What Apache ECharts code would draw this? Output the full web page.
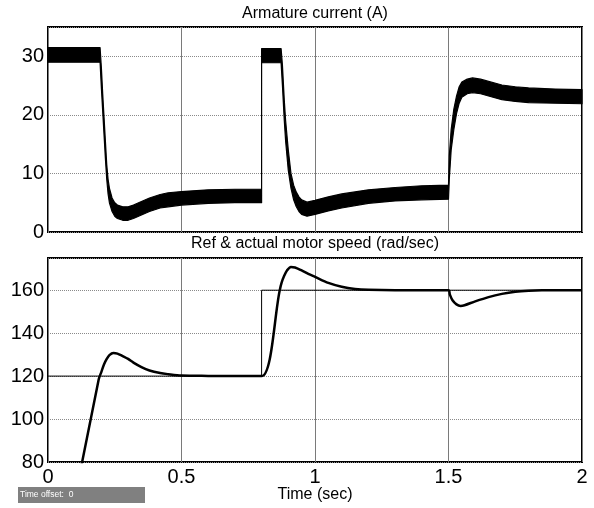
<!DOCTYPE html>
<html>
<head>
<meta charset="utf-8">
<script src="https://cdn.jsdelivr.net/npm/echarts@6/dist/echarts.min.js"></script>
<style>
html,body{margin:0;padding:0;background:#fff;}
#chart{width:594px;height:508px;}
</style>
</head>
<body>
<div id="chart"></div>
<script>
// ---- Armature current (A): ripple band, upper & lower envelopes ----
var currentTime  = [0, 0.195, 0.2, 0.205, 0.21, 0.215, 0.22, 0.225, 0.23, 0.24, 0.25, 0.26, 0.28, 0.3, 0.32, 0.35, 0.38, 0.42, 0.45, 0.5, 0.6, 0.7, 0.8,
                    0.8, 0.873, 0.878, 0.885, 0.89, 0.9, 0.91, 0.92, 0.93, 0.94, 0.95, 0.97, 1.0, 1.05, 1.1, 1.2, 1.3, 1.4, 1.5,
                    1.503, 1.51, 1.52, 1.53, 1.54, 1.55, 1.57, 1.59, 1.62, 1.7, 1.75, 1.8, 1.9, 2.0];
var currentUpper = [31.5, 31.5, 28.0, 23.5, 19.5, 15.5, 11.5, 9.0, 7.5, 5.8, 5.0, 4.6, 4.3, 4.3, 4.6, 5.2, 5.8, 6.4, 6.7, 6.9, 7.2, 7.3, 7.3,
                    31.3, 31.3, 28.5, 22.5, 19.0, 14.0, 10.0, 8.0, 6.8, 6.0, 5.5, 5.1, 5.4, 6.0, 6.5, 7.2, 7.6, 7.9, 8.0,
                    13.0, 17.5, 21.0, 23.2, 24.8, 25.6, 26.1, 26.3, 26.1, 25.1, 24.8, 24.6, 24.4, 24.3];
var currentLower = [29.0, 29.0, 24.5, 20.5, 16.5, 12.5, 9.0, 6.5, 5.0, 3.5, 2.7, 2.3, 2.0, 2.0, 2.3, 2.9, 3.5, 4.1, 4.3, 4.6, 4.9, 5.0, 5.0,
                    28.9, 28.9, 25.0, 19.0, 15.5, 10.5, 7.5, 5.5, 4.3, 3.5, 3.0, 2.7, 3.0, 3.6, 4.1, 4.9, 5.3, 5.5, 5.6,
                    9.0, 14.0, 17.5, 20.2, 22.0, 23.0, 23.6, 23.8, 23.6, 22.6, 22.3, 22.1, 22.0, 21.9];

// ---- Ref & actual motor speed (rad/sec) ----
var speedTime   = [0, 0.19, 0.2, 0.21, 0.22, 0.23, 0.245, 0.26, 0.28, 0.3, 0.32, 0.35, 0.38, 0.42, 0.45, 0.5, 0.6, 0.7, 0.8,
                   0.868, 0.875, 0.885, 0.895, 0.91, 0.925, 0.95, 0.975, 1.0, 1.05, 1.1, 1.15, 1.2, 1.3, 1.5,
                   1.505, 1.515, 1.53, 1.545, 1.56, 1.6, 1.65, 1.7, 1.75, 1.8, 1.85, 2.0];
var speedActual = [0, 118.5, 122, 125.5, 128, 129.8, 130.8, 130.5, 129.3, 128.0, 126.3, 124.2, 122.6, 121.4, 120.9, 120.3, 120.1, 120, 120,
                   160, 163.5, 166.8, 169.2, 170.8, 170.6, 169.2, 167.6, 166.2, 163.4, 161.6, 160.6, 160.2, 160, 160,
                   158, 155.3, 153.4, 152.7, 153.0, 154.8, 156.8, 158.3, 159.3, 159.8, 160, 160];
var refTime  = [0, 0.8, 0.8, 2];
var refSpeed = [120, 120, 160, 160];

var xTickValues = [0, 0.5, 1, 1.5, 2];

function pairs(xs, ys) { return xs.map(function (x, i) { return [x, ys[i]]; }); }

var FONT = '"Liberation Sans", Arial, sans-serif';
var chart = echarts.init(document.getElementById('chart'), null, {renderer: 'canvas'});

var hGrid = {show: true, lineStyle: {color: '#8a8a8a', width: 1, type: [1, 1]}};
var vGrid = {show: true, lineStyle: {color: '#7a7a7a', width: 1, type: 'solid'}};

function renderBand(params, api) {
  if (params.dataIndex !== 0) return null;
  var pts = [];
  for (var i = 0; i < currentTime.length; i++) pts.push(api.coord([currentTime[i], currentUpper[i]]));
  for (var j = currentTime.length - 1; j >= 0; j--) pts.push(api.coord([currentTime[j], currentLower[j]]));
  return {type: 'polygon', shape: {points: pts},
          style: {fill: '#000', stroke: '#000', lineWidth: 1.2, lineJoin: 'round'}};
}

chart.setOption({
  animation: false,
  backgroundColor: '#ffffff',
  grid: [
    {left: 48, top: 27, width: 534, height: 205, show: true, borderColor: '#000', borderWidth: 2, containLabel: false},
    {left: 48, top: 258, width: 534, height: 204, show: true, borderColor: '#000', borderWidth: 2, containLabel: false}
  ],
  xAxis: [
    {type: 'value', gridIndex: 0, min: 0, max: 2, interval: 0.5,
     axisLine: {show: false}, axisTick: {show: false}, axisLabel: {show: false}, splitLine: vGrid},
    {type: 'value', gridIndex: 1, min: 0, max: 2, interval: 0.5,
     axisLine: {show: false}, axisTick: {show: false},
     axisLabel: {show: true, margin: 5, color: '#000', fontSize: 20, fontFamily: FONT,
                 formatter: function (v) { return xTickValues.indexOf(v) >= 0 ? String(v) : ''; }},
     splitLine: vGrid}
  ],
  yAxis: [
    {type: 'value', gridIndex: 0, min: 0, max: 35, interval: 10,
     axisLine: {show: false}, axisTick: {show: false},
     axisLabel: {margin: 4, color: '#000', fontSize: 20, fontFamily: FONT, showMaxLabel: false},
     splitLine: hGrid},
    {type: 'value', gridIndex: 1, min: 80, max: 175, interval: 20,
     axisLine: {show: false}, axisTick: {show: false},
     axisLabel: {margin: 4, color: '#000', fontSize: 20, fontFamily: FONT, showMaxLabel: false},
     splitLine: hGrid}
  ],
  series: [
    {name: 'Armature current', type: 'custom', xAxisIndex: 0, yAxisIndex: 0,
     data: [[currentTime[0], currentLower[0]]], encode: {x: 0, y: 1},
     renderItem: renderBand, z: 3},
    {name: 'ref', type: 'line', xAxisIndex: 1, yAxisIndex: 1,
     data: pairs(refTime, refSpeed), symbol: 'none',
     lineStyle: {color: '#000', width: 1}, z: 3},
    {name: 'actual', type: 'line', xAxisIndex: 1, yAxisIndex: 1,
     data: pairs(speedTime, speedActual), symbol: 'none', smooth: 0.3,
     lineStyle: {color: '#000', width: 2.5}, z: 4}
  ],
  graphic: [
    {type: 'text', x: 315, y: 14, style: {text: 'Armature current (A)', font: '16px ' + FONT, fill: '#000', textAlign: 'center', textVerticalAlign: 'middle'}},
    {type: 'text', x: 315, y: 244, style: {text: 'Ref & actual motor speed (rad/sec)', font: '16px ' + FONT, fill: '#000', textAlign: 'center', textVerticalAlign: 'middle'}},
    {type: 'text', x: 315, y: 495, style: {text: 'Time (sec)', font: '16px ' + FONT, fill: '#000', textAlign: 'center', textVerticalAlign: 'middle'}},
    {type: 'rect', shape: {x: 18, y: 487, width: 127, height: 16}, style: {fill: '#808080'}},
    {type: 'text', x: 20, y: 495, style: {text: 'Time offset:  0', font: '8.5px ' + FONT, fill: '#fff', textAlign: 'left', textVerticalAlign: 'middle'}}
  ]
});
</script>
</body>
</html>
